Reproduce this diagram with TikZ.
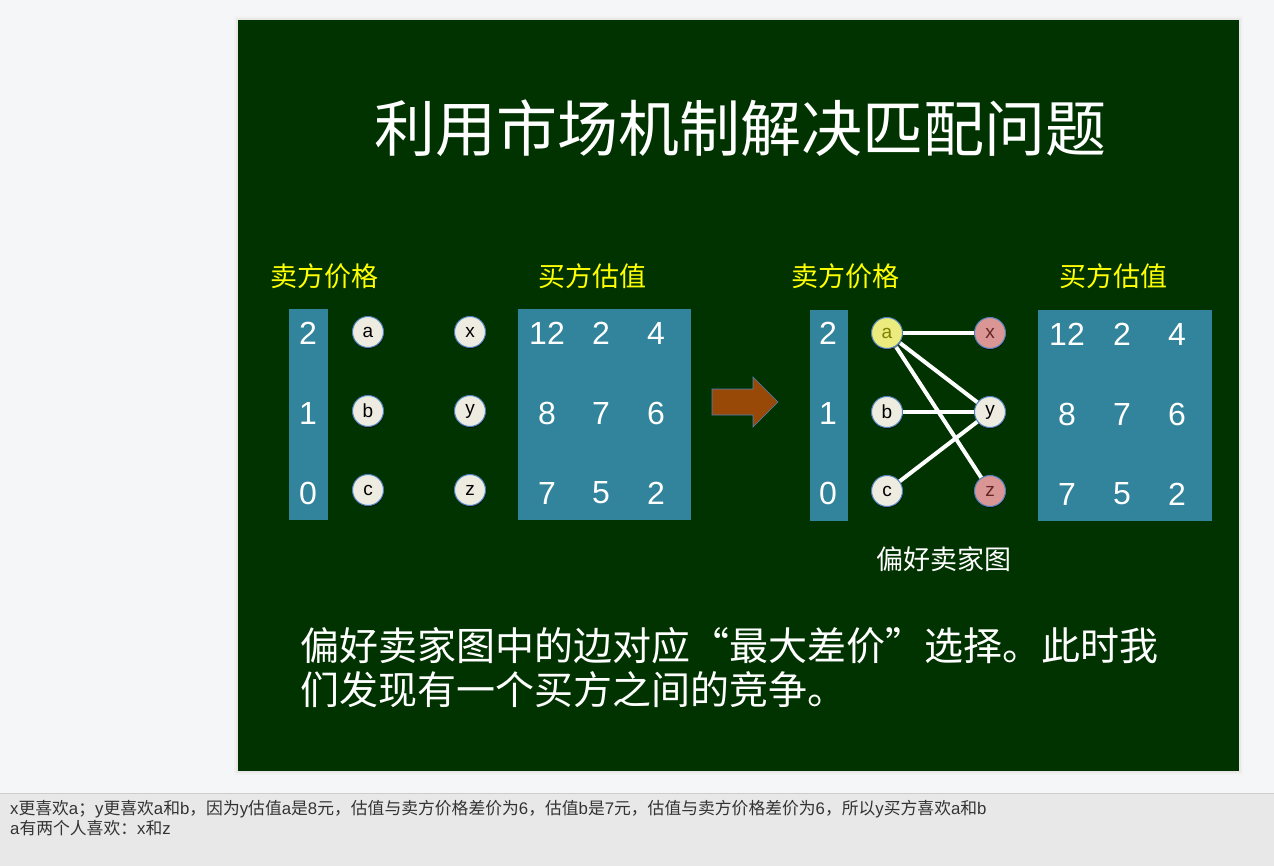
\documentclass[tikz,border=0pt]{standalone}
\usepackage{fontspec}
\setmainfont{Liberation Sans}
\newfontfamily\cjk{Noto Sans CJK SC}
\newfontfamily\latf{Liberation Sans}
\usetikzlibrary{shadows}
\definecolor{pagebg}{HTML}{F5F6F8}
\definecolor{slidebg}{HTML}{003300}
\definecolor{footbg}{HTML}{E8E8E8}
\definecolor{tealbox}{HTML}{31849B}
\definecolor{nodefill}{HTML}{EEECE1}
\definecolor{nodeedge}{HTML}{4F81BD}
\definecolor{yelnode}{HTML}{EBEB7E}
\definecolor{pinknode}{HTML}{D99694}
\definecolor{arrowc}{HTML}{984807}
\definecolor{labyellow}{HTML}{FFFF00}
\definecolor{foottext}{HTML}{333333}
\definecolor{darkred}{HTML}{632523}
\definecolor{darkolive}{HTML}{7F7F00}
\newcommand{\lt}[1]{{\latf #1}}
\tikzset{
  title/.style={text=white,font=\cjk\fontsize{61}{70}\selectfont},
  headlab/.style={text=labyellow,font=\cjk\fontsize{27}{32}\selectfont},
  num/.style={text=white,font=\fontsize{32}{36}\selectfont},
  tealrect/.style={fill=tealbox,draw=none},
  vert/.style={circle,minimum size=31pt,inner sep=0pt,fill=nodefill,draw=nodeedge,line width=1pt,
     font=\fontsize{19}{22}\selectfont,text=black,
     drop shadow={shadow xshift=0.5pt,shadow yshift=-1.5pt,opacity=0.5,fill=black}},
  yvert/.style={vert,fill=yelnode,text=darkolive},
  pvert/.style={vert,fill=pinknode,text=darkred},
  edge/.style={draw=white,line width=4pt},
  body/.style={text=white,font=\cjk\fontsize{39}{44}\selectfont,anchor=west},
  foot/.style={text=foottext,font=\cjk\fontsize{16.8}{19}\selectfont,anchor=west,inner sep=0pt},
}
\begin{document}
\begin{tikzpicture}[x=1pt,y=-1pt]
\useasboundingbox (0,0) rectangle (1274,866);
\fill[pagebg] (0,0) rectangle (1274,866);
% footer
\fill[footbg] (0,793) rectangle (1274,866);
\draw[gray!40,line width=1pt] (0,793) -- (1274,793);
\node[foot] (f1) at (10,809) {\lt{x}更喜欢\lt{a}；\lt{y}更喜欢\lt{a}和\lt{b}，因为\lt{y}估值\lt{a}是\lt{8}元，估值与卖方价格差价为\lt{6}，估值\lt{b}是\lt{7}元，估值与卖方价格差价为\lt{6}，所以\lt{y}买方喜欢\lt{a}和\lt{b}};
\node[foot] (f2) at (10,828) {\lt{a}有两个人喜欢：\lt{x}和\lt{z}};
% slide shadow and slide
\fill[black!5] (234,16) rectangle (1243,775);
\fill[black!9] (236,18) rectangle (1241,773);
\fill[slidebg] (238,20) rectangle (1239,771);
% title
\node[title] (t) at (740,128) {利用市场机制解决匹配问题};
% headings
\node[headlab] (h1) at (324,276) {卖方价格};
\node[headlab] (h2) at (592,276) {买方估值};
\node[headlab] (h3) at (845,276) {卖方价格};
\node[headlab] (h4) at (1113,276) {买方估值};
% left price column
\fill[tealrect] (289,309) rectangle (328,520);
\node[num] (p1) at (308,333) {2};
\node[num] (p2) at (308,413) {1};
\node[num] (p3) at (308,493) {0};
% left vertices
\node[vert] (a) at (368,332) {a};
\node[vert] (b) at (368,411) {b};
\node[vert] (c) at (368,490) {c};
\node[vert] (x) at (470,332) {x};
\node[vert] (y) at (470,411) {y};
\node[vert] (z) at (470,490) {z};
% left value matrix
\fill[tealrect] (518,309) rectangle (691,520);
\node[num] (v11) at (547,333) {12};
\node[num] (v12) at (601,333) {2};
\node[num] (v13) at (656,333) {4};
\node[num] (v21) at (547,413) {8};
\node[num] (v22) at (601,413) {7};
\node[num] (v23) at (656,413) {6};
\node[num] (v31) at (547,493) {7};
\node[num] (v32) at (601,493) {5};
\node[num] (v33) at (656,493) {2};
% arrow
\filldraw[fill=arrowc,draw=nodeedge,line width=0.6pt]
  (712,389) -- (753,389) -- (753,377) -- (778,402) -- (753,427) -- (753,415) -- (712,415) -- cycle;
% right price column
\fill[tealrect] (810,310) rectangle (848,521);
\node[num] (q1) at (828,333) {2};
\node[num] (q2) at (828,413) {1};
\node[num] (q3) at (828,493) {0};
% right graph: coordinates, edges, then vertices on top
\coordinate (pa) at (887,333);
\coordinate (pb) at (887,412);
\coordinate (pc) at (887,491);
\coordinate (px) at (990,333);
\coordinate (py) at (990,412);
\coordinate (pz) at (990,491);
\draw[edge] (pa) -- (px);
\draw[edge] (pa) -- (py);
\draw[edge] (pa) -- (pz);
\draw[edge] (pb) -- (py);
\draw[edge] (pc) -- (py);
\node[yvert] (ra) at (pa) {a};
\node[vert] (rb) at (pb) {b};
\node[vert] (rc) at (pc) {c};
\node[pvert] (rx) at (px) {x};
\node[vert] (ry) at (py) {y};
\node[pvert] (rz) at (pz) {z};
% right value matrix
\fill[tealrect] (1038,310) rectangle (1212,521);
\node[num] (w11) at (1067,334) {12};
\node[num] (w12) at (1122,334) {2};
\node[num] (w13) at (1177,334) {4};
\node[num] (w21) at (1067,414) {8};
\node[num] (w22) at (1122,414) {7};
\node[num] (w23) at (1177,414) {6};
\node[num] (w31) at (1067,494) {7};
\node[num] (w32) at (1122,494) {5};
\node[num] (w33) at (1177,494) {2};
% caption
\node[text=white,font=\cjk\fontsize{27}{32}\selectfont] (cap) at (944,559) {偏好卖家图};
% body text
\node[body] (l1) at (297,646) {偏好卖家图中的边对应“最大差价”选择。此时我};
\node[body] (l2) at (297,690) {们发现有一个买方之间的竞争。};
\end{tikzpicture}
\end{document}
